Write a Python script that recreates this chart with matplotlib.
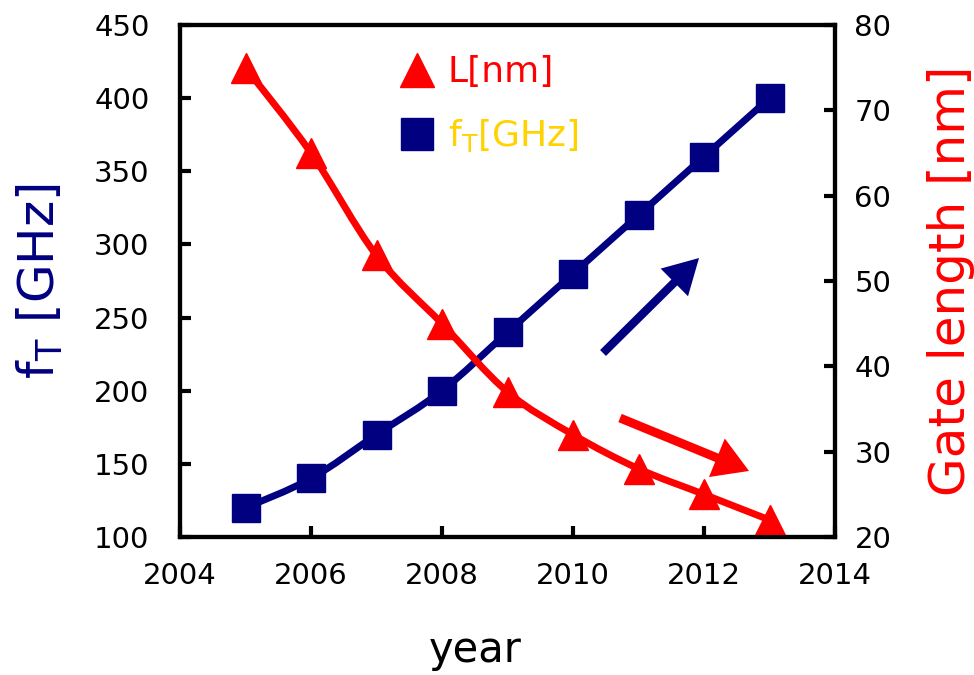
import numpy as np
import matplotlib
matplotlib.use("Agg")
import matplotlib.pyplot as plt
from matplotlib.path import Path
from matplotlib.patches import PathPatch
from matplotlib.lines import Line2D

plt.rcParams['font.family'] = ['DejaVu Sans']

# data
years = [2005, 2006, 2007, 2008, 2009, 2010, 2011, 2012, 2013]
ft_ghz = [120, 140, 170, 200, 240, 280, 320, 360, 400]
gate_nm = [75, 65, 53, 45, 37, 32, 28, 25, 22]

x_ticks = [2004, 2006, 2008, 2010, 2012, 2014]
ft_ticks = [100, 150, 200, 250, 300, 350, 400, 450]
gate_ticks = [20, 30, 40, 50, 60, 70, 80]

NAVY = '#000080'
RED = '#FF0000'
GOLD = '#FFD200'


def smooth_path(x, y):
    """Cubic Bezier path through the points (Catmull-Rom style smoothing)."""
    pts = np.column_stack([x, y]).astype(float)
    n = len(pts)
    verts = [pts[0]]
    codes = [Path.MOVETO]
    for i in range(n - 1):
        p0 = pts[i - 1] if i > 0 else pts[i]
        p1 = pts[i]
        p2 = pts[i + 1]
        p3 = pts[i + 2] if i + 2 < n else pts[i + 1]
        verts += [p1 + (p2 - p0) / 6.0, p2 - (p3 - p1) / 6.0, p2]
        codes += [Path.CURVE4] * 3
    return Path(verts, codes)


fig = plt.figure(figsize=(9.74, 6.75), dpi=100)
ax = fig.add_axes([180 / 974, 1 - 537 / 675, 655 / 974, 512 / 675])
ax2 = ax.twinx()

# f_T series (left axis)
ax.add_patch(PathPatch(smooth_path(years, ft_ghz), fill=False, ec=NAVY, lw=5.0,
                       capstyle='round', joinstyle='round'))
ax.plot(years, ft_ghz, ls='none', marker='s', ms=20, color=NAVY, mec=NAVY)

# gate length series (right axis)
ax2.add_patch(PathPatch(smooth_path(years, gate_nm), fill=False, ec=RED, lw=5.0,
                        capstyle='round', joinstyle='round'))
ax2.plot(years, gate_nm, ls='none', marker='^', ms=21, color=RED, mec=RED)

ax.set_xlim(2004, 2014)
ax.set_ylim(100, 450)
ax2.set_ylim(20, 80)
ax.set_xticks(x_ticks)
ax.set_yticks(ft_ticks)
ax2.set_yticks(gate_ticks)

for a in (ax, ax2):
    for s in a.spines.values():
        s.set_linewidth(3)
        s.set_color('black')

ax.tick_params(axis='both', direction='in', length=8, width=3, labelsize=21,
               top=False, right=False)
ax.tick_params(axis='y', pad=22)
ax.tick_params(axis='x', pad=18)
ax2.tick_params(axis='y', direction='in', length=8, width=3, labelsize=21, pad=14)

ax.set_xlabel('year', fontsize=30)
ax.xaxis.set_label_coords(0.45, -0.18)
ax.set_ylabel(r'$\mathregular{f_T}$ [GHz]', fontsize=36, color=NAVY)
ax.yaxis.set_label_coords(-0.176, 0.5)
ax2.set_ylabel('Gate length [nm]', fontsize=36, color=RED)
ax2.yaxis.set_label_coords(1.14, 0.5)

# trend arrows
ax2.annotate('', xy=(0.7924, 0.5449), xytext=(0.6458, 0.3594),
             xycoords='axes fraction', textcoords='axes fraction',
             arrowprops=dict(arrowstyle='simple,head_length=1.25,head_width=1.4,tail_width=0.3',
                             mutation_scale=20, fc=NAVY, ec=NAVY, lw=0,
                             shrinkA=0, shrinkB=0))
ax2.annotate('', xy=(0.8687, 0.1290), xytext=(0.6718, 0.2324),
             xycoords='axes fraction', textcoords='axes fraction',
             arrowprops=dict(arrowstyle='simple,head_length=1.25,head_width=1.5,tail_width=0.32',
                             mutation_scale=20, fc=RED, ec=RED, lw=0,
                             shrinkA=0, shrinkB=0))

handles = [Line2D([], [], ls='none', marker='^', ms=24, color=RED),
           Line2D([], [], ls='none', marker='s', ms=23, color=NAVY)]
labels = ['L[nm]', r'$\mathregular{f_T}$[GHz]']
leg = ax2.legend(handles, labels, loc='upper left', bbox_to_anchor=(0.334, 0.941),
                 frameon=False, fontsize=26, handlelength=1.0, handletextpad=0.35,
                 labelspacing=0.78, borderpad=0, borderaxespad=0)
for txt, col in zip(leg.get_texts(), [RED, GOLD]):
    txt.set_color(col)

fig.savefig('out.png', dpi=100)
